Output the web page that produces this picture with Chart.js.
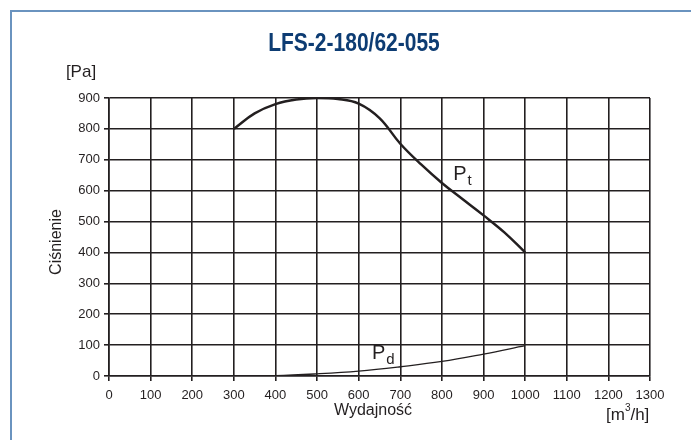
<!DOCTYPE html>
<html>
<head>
<meta charset="utf-8">
<script src="https://cdn.jsdelivr.net/npm/chart.js@4.4.1/dist/chart.umd.min.js"></script>
<style>
  html, body { margin: 0; padding: 0; background: #fff; }
  #wrap { width: 691px; height: 440px; }
</style>
</head>
<body>
<div id="wrap"><canvas id="myChart" width="691" height="440"></canvas></div>
<script>
// airflow [m3/h] and pressure [Pa]
const flowPt = [300, 350, 400, 450, 500, 550, 600, 650, 700, 750, 800, 850, 900, 950, 1000];
const pressPt = [800, 850, 880, 895, 900, 897, 882, 835, 752, 685, 625, 572, 520, 465, 400];
const flowPd = [300, 400, 500, 600, 700, 800, 900, 1000];
const pressPd = [0, 1, 7, 16, 30, 47, 71, 98];
const xTicks = [0, 100, 200, 300, 400, 500, 600, 700, 800, 900, 1000, 1100, 1200, 1300];
const yTicks = [0, 100, 200, 300, 400, 500, 600, 700, 800, 900];
const curveLabels = [
  { x: 843, y: 652, main: 'P', sub: 't' },
  { x: 648, y: 72, main: 'P', sub: 'd' }
];

const ink = '#231f20';
const font = '"Liberation Sans", Arial, sans-serif';

const toPoints = (xs, ys) => xs.map((x, i) => ({ x: x, y: ys[i] }));

// frame, title, axis captions and curve names
const decor = {
  id: 'decor',
  afterDraw(chart) {
    const ctx = chart.ctx;
    const xs = chart.scales.x, ys = chart.scales.y;
    ctx.save();

    ctx.strokeStyle = '#6a93bf';
    ctx.lineWidth = 2;
    ctx.beginPath();
    ctx.moveTo(11, 440);
    ctx.lineTo(11, 11);
    ctx.lineTo(691, 11);
    ctx.stroke();

    // condensed bold title
    ctx.save();
    ctx.fillStyle = '#0d3c73';
    ctx.font = 'bold 25px ' + font;
    ctx.textAlign = 'center';
    ctx.textBaseline = 'middle';
    ctx.translate(354, 44);
    ctx.scale(0.84, 1);
    ctx.fillText('LFS-2-180/62-055', 0, 0);
    ctx.restore();

    ctx.fillStyle = ink;
    ctx.textAlign = 'center';
    ctx.textBaseline = 'middle';
    ctx.font = '17px ' + font;
    ctx.fillText('[Pa]', 81, 72);
    ctx.font = '16px ' + font;
    ctx.fillText('Wydajność', 373, 411);
    ctx.textAlign = 'left';
    ctx.font = '17px ' + font;
    ctx.fillText('[m', 606, 415);
    let w = ctx.measureText('[m').width;
    ctx.font = '10px ' + font;
    ctx.fillText('3', 606 + w, 408);
    let w3 = ctx.measureText('3').width;
    ctx.font = '17px ' + font;
    ctx.fillText('/h]', 606 + w + w3, 415);

    ctx.save();
    ctx.translate(57, 242);
    ctx.rotate(-Math.PI / 2);
    ctx.textAlign = 'center';
    ctx.font = '16px ' + font;
    ctx.fillText('Ciśnienie', 0, 0);
    ctx.restore();

    curveLabels.forEach(l => {
      const px = xs.getPixelForValue(l.x);
      const py = ys.getPixelForValue(l.y);
      ctx.textAlign = 'center';
      ctx.font = '20px ' + font;
      ctx.fillText(l.main, px, py);
      const mw = ctx.measureText(l.main).width;
      ctx.textAlign = 'left';
      ctx.font = '15px ' + font;
      ctx.fillText(l.sub, px + mw / 2 + 1, py + 6);
    });
    ctx.restore();
  }
};

new Chart(document.getElementById('myChart').getContext('2d'), {
  type: 'line',
  data: {
    datasets: [
      {
        data: toPoints(flowPt, pressPt),
        borderColor: ink,
        borderWidth: 2.5,
        pointRadius: 0,
        tension: 0.4,
        fill: false
      },
      {
        data: toPoints(flowPd, pressPd),
        borderColor: ink,
        borderWidth: 1.3,
        pointRadius: 0,
        tension: 0.4,
        fill: false
      }
    ]
  },
  options: {
    responsive: false,
    animation: false,
    layout: { padding: { left: 0, top: 98, right: 41, bottom: 0 } },
    plugins: { legend: { display: false }, tooltip: { enabled: false } },
    scales: {
      x: {
        type: 'linear',
        min: 0,
        max: 1300,
        afterBuildTicks: s => { s.ticks = xTicks.map(v => ({ value: v })); },
        afterFit: s => { s.height = 64; },
        grid: { color: ink, lineWidth: 1.6, tickLength: 5 },
        border: { color: ink, width: 1.6 },
        ticks: {
          color: ink, font: { family: font, size: 13 }, padding: 7, maxRotation: 0,
          callback: v => String(v)
        }
      },
      y: {
        min: 0,
        max: 900,
        afterBuildTicks: s => { s.ticks = yTicks.map(v => ({ value: v })); },
        afterFit: s => { s.width = 109; },
        grid: { color: ink, lineWidth: 1.6, tickLength: 5 },
        border: { color: ink, width: 1.6 },
        ticks: { color: ink, font: { family: font, size: 13 }, padding: 4, callback: v => String(v) }
      }
    }
  },
  plugins: [decor]
});
</script>
</body>
</html>
